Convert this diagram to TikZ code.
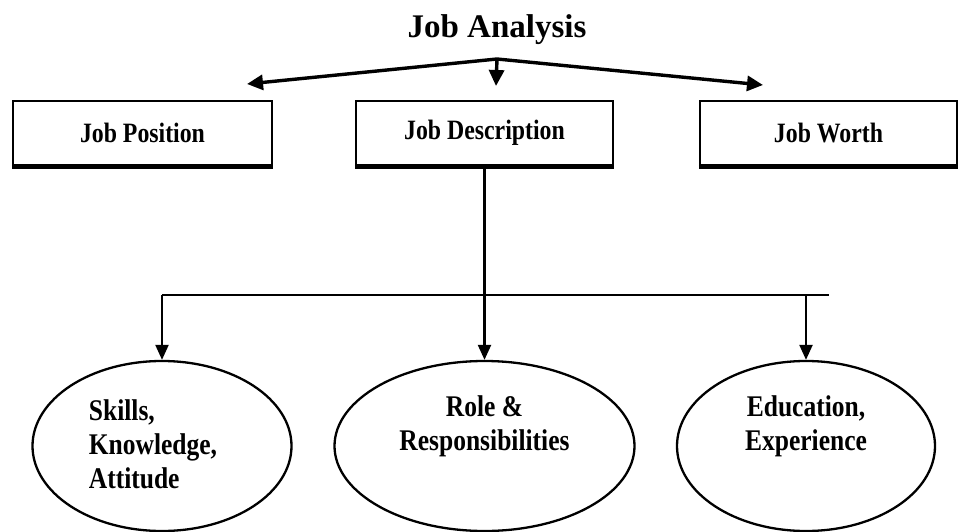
\documentclass[tikz,border=0pt]{standalone}
\usepackage{fontspec}
\setmainfont{Liberation Serif}
\newfontfamily\labelfont[FakeStretch=0.85]{Liberation Serif}
\usetikzlibrary{arrows.meta,shapes.geometric}

\begin{document}
\begin{tikzpicture}[x=1pt,y=-1pt,
  titletext/.style={font=\bfseries\fontsize{33}{38}\selectfont, inner sep=0, anchor=base},
  jobbox/.style={draw, line width=2.4pt, inner sep=0, minimum height=64pt,
                 font=\labelfont\bfseries\fontsize{28}{32}\selectfont},
  boxfoot/.style={line width=4pt},
  oval/.style={draw, ellipse, line width=2.3pt, inner sep=0,
               minimum width=259pt, minimum height=170pt},
  ovaltext/.style={font=\labelfont\bfseries\fontsize{30}{34}\selectfont, inner sep=0},
  fanarrow/.style={line width=3.4pt, -{Triangle[length=16pt,width=15pt]}},
  feed/.style={line width=2.2pt},
  feedarrow/.style={line width=2.2pt, -{Triangle[length=15pt,width=13pt]}}]

  % page frame
  \useasboundingbox (0,0) rectangle (963,532);

  % heading and the fan of arrows below it
  \node[titletext] (title) at (497,38) {Job Analysis};
  \coordinate (apex) at (497,59);
  \coordinate (ltip) at (247,84);
  \coordinate (mtip) at (496,86);
  \coordinate (rtip) at (763,85);
  \draw[fanarrow] (apex) -- (ltip);
  \draw[fanarrow] (apex) -- (rtip);
  \draw[fanarrow] (apex) -- (mtip);

  % the three job boxes
  \node[jobbox, minimum width=259pt] (jp) at (142.5,133) {Job Position};
  \node[jobbox, minimum width=257pt] (jd) at (484.5,133) {Job Description};
  \node[jobbox, minimum width=257pt] (jw) at (828.5,133) {Job Worth};
  \foreach \b in {jp,jd,jw}
    \draw[boxfoot] ([yshift=-0.8pt]\b.south west) -- ([yshift=-0.8pt]\b.south east);

  % the three outcome ovals
  \node[oval] (ol) at (162,446) {};
  \node[oval, minimum width=300pt] (om) at (484.5,446) {};
  \node[oval, minimum width=258pt] (or) at (806,446) {};

  \node[ovaltext, align=left] (tl) at (153,444) {Skills,\\Knowledge,\\Attitude};
  \node[ovaltext, align=center] (tm) at (484.5,426) {Role \&\\Responsibilities};
  \node[ovaltext, align=center] (tr) at (806,426) {Education,\\Experience};

  % distribution bar from Job Description down to the ovals
  \coordinate (barl) at (162,295);
  \coordinate (barr) at (829,295);
  \draw[feed] (barl) -- (barr);
  \draw[feedarrow] (jd.south) -- (om.north);
  \draw[feedarrow] (barl) -- (ol.north);
  \draw[feedarrow] (or.north |- barl) -- (or.north);
\end{tikzpicture}
\end{document}
